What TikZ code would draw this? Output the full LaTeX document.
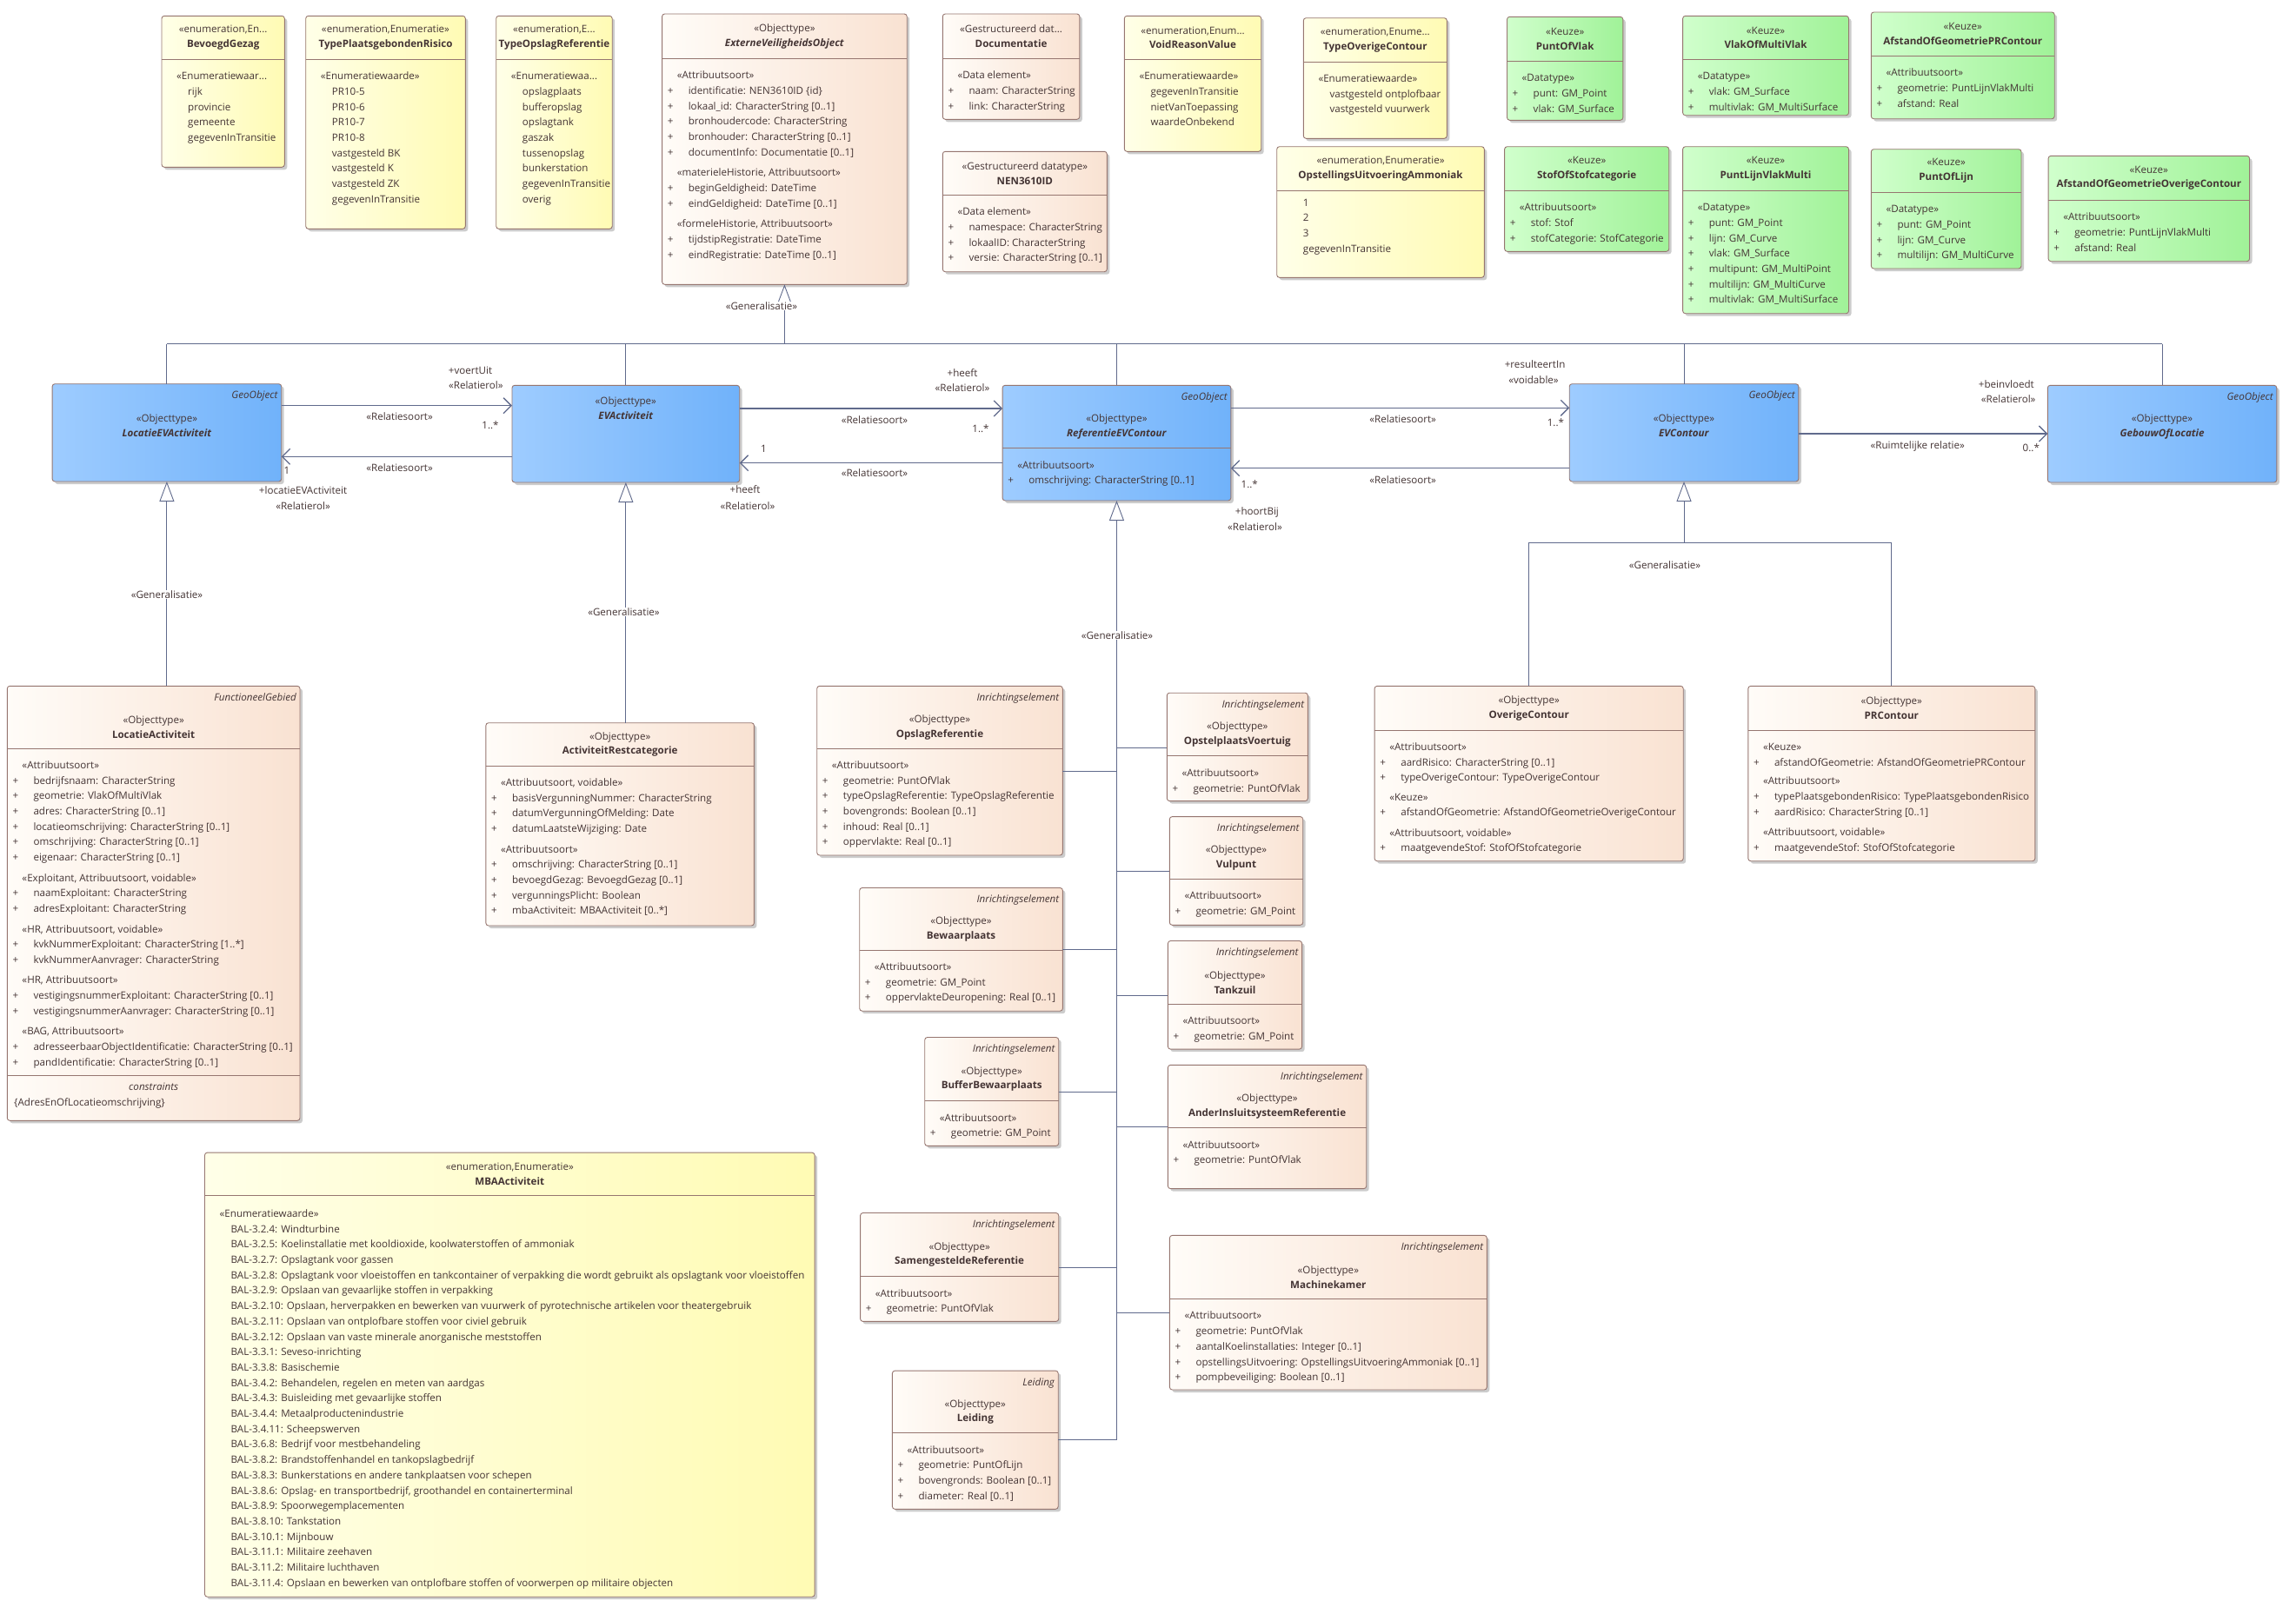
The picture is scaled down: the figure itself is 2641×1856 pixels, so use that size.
\documentclass[tikz,border=0pt]{standalone}
\usepackage{fontspec}
\setmainfont{Open Sans}
\usetikzlibrary{fit,shadows,arrows.meta}

\definecolor{rand}{RGB}{150,118,112}
\definecolor{tekst}{RGB}{68,52,52}
\definecolor{lijn}{RGB}{96,106,140}
\definecolor{perzik1}{RGB}{255,252,248}
\definecolor{perzik2}{RGB}{249,226,210}
\definecolor{geel1}{RGB}{255,255,232}
\definecolor{geel2}{RGB}{255,251,180}
\definecolor{groen1}{RGB}{208,255,204}
\definecolor{groen2}{RGB}{160,242,152}
\definecolor{blauw1}{RGB}{158,204,255}
\definecolor{blauw2}{RGB}{112,178,250}

\newcommand{\umlfont}{\fontsize{11.6}{17.7}\selectfont}

\tikzset{
	klasse/.style={draw=rand, line width=0.9pt, rounded corners=3pt, inner sep=0pt, outer sep=0pt,
		drop shadow={shadow xshift=3pt, shadow yshift=-3pt, fill=black, opacity=0.2}},
	objtype/.style={klasse, left color=perzik1, right color=perzik2},
	enum/.style={klasse, left color=geel1, right color=geel2},
	keuze/.style={klasse, left color=groen1, right color=groen2},
	geo/.style={klasse, left color=blauw1, right color=blauw2},
	kop/.style={align=center, inner sep=0pt, text=tekst},
	lijst/.style={align=left, anchor=north west, inner sep=0pt, text=tekst},
	etiket/.style={anchor=base east, inner sep=0pt, text=tekst, font=\umlfont\itshape},
	assoc/.style={draw=lijn, line width=1.3pt, -{Straight Barb[length=9pt,width=18pt]}},
	gen/.style={draw=lijn, line width=0.9pt, -{Triangle[length=23pt,width=17pt,fill=white]}},
	genlijn/.style={draw=lijn, line width=0.9pt},
	rol/.style={inner sep=0pt, text=tekst},
	genlabel/.style={inner sep=1pt, fill=white, text=tekst}
}

\newcommand{\klasse}[8]{%
	\node[#2, fit={(#3,#4) (#5,#6)}] (#1) {};
	\coordinate (#1-div) at (#3,#7);
	\coordinate (#1-divr) at (#5,#7);
	\if\relax\detokenize{#8}\relax
	\coordinate (#1-kop) at ({(#3+#5)/2},{(#4+#7)/2});
	\else
	\node[etiket] at ({#5-4},{#4+17}) {#8};
	\coordinate (#1-kop) at ({(#3+#5)/2},{(#4+#7)/2+11.5});
	\fi}
\newcommand{\kop}[3]{\node[kop] at (#1-kop) {#2\\[-1pt]\textbf{#3}};}
\newcommand{\lijst}[3][19]{%
	\draw[rand, line width=0.9pt] (#2-div) -- (#2-divr);
	\node[lijst] at ([shift={(4,#1+4.2-12.39)}]#2-div) {\strut#3};}
\newcommand{\stereo}[1]{\hspace*{13pt}#1}
\newcommand{\kenmerk}[1]{\makebox[26pt][l]{\hspace*{2pt}+}#1}
\newcommand{\waarde}[1]{\hspace*{26pt}#1}

\begin{document}
\begin{tikzpicture}[x=1pt, y=-1pt, font=\umlfont]
	\fill[white] (0,0) rectangle (2641,1856);
	\useasboundingbox (0,0) rectangle (2641,1856);
	
	\klasse{bevoegdgezag}{enum}{186}{18.3}{327.3}{192.3}{68.3}{}
	\kop{bevoegdgezag}{«enumeration,En...}{BevoegdGezag}
	\lijst{bevoegdgezag}{\stereo{«Enumeratiewaar...}\\ \waarde{rijk}\\ \waarde{provincie}\\ \waarde{gemeente}\\ \waarde{gegevenInTransitie}}
	
	\klasse{typepr}{enum}{351.7}{18.3}{535.3}{263.3}{68.3}{}
	\kop{typepr}{«enumeration,Enumeratie»}{TypePlaatsgebondenRisico}
	\lijst{typepr}{\stereo{«Enumeratiewaarde»}\\ \waarde{PR10-5}\\ \waarde{PR10-6}\\ \waarde{PR10-7}\\ \waarde{PR10-8}\\ \waarde{vastgesteld BK}\\ \waarde{vastgesteld K}\\ \waarde{vastgesteld ZK}\\ \waarde{gegevenInTransitie}}
	
	\klasse{typeopslag}{enum}{570.7}{18.3}{704.2}{263.3}{68.3}{}
	\kop{typeopslag}{«enumeration,E...}{TypeOpslagReferentie}
	\lijst{typeopslag}{\stereo{«Enumeratiewaa...}\\ \waarde{opslagplaats}\\ \waarde{bufferopslag}\\ \waarde{opslagtank}\\ \waarde{gaszak}\\ \waarde{tussenopslag}\\ \waarde{bunkerstation}\\ \waarde{gegevenInTransitie}\\ \waarde{overig}}
	
	\klasse{evo}{objtype}{761.6}{16}{1043.2}{327.3}{67.3}{}
	\kop{evo}{«Objecttype»}{\textit{ExterneVeiligheidsObject}}
	\lijst{evo}{\stereo{«Attribuutsoort»}\\
		\kenmerk{identificatie: NEN3610ID \{id\}}\\
		\kenmerk{lokaal\_id: CharacterString [0..1]}\\
		\kenmerk{bronhoudercode: CharacterString}\\
		\kenmerk{bronhouder: CharacterString [0..1]}\\
		\kenmerk{documentInfo: Documentatie [0..1]}\\[5.8pt]
		\stereo{«materieleHistorie, Attribuutsoort»}\\
		\kenmerk{beginGeldigheid: DateTime}\\
		\kenmerk{eindGeldigheid: DateTime [0..1]}\\[5.8pt]
		\stereo{«formeleHistorie, Attribuutsoort»}\\
		\kenmerk{tijdstipRegistratie: DateTime}\\
		\kenmerk{eindRegistratie: DateTime [0..1]}}
	
	\klasse{documentatie}{objtype}{1084.3}{16}{1241.8}{137.3}{67.3}{}
	\kop{documentatie}{«Gestructureerd dat...}{Documentatie}
	\lijst{documentatie}{\stereo{«Data element»}\\ \kenmerk{naam: CharacterString}\\ \kenmerk{link: CharacterString}}
	
	\klasse{nen}{objtype}{1084.3}{174.3}{1273.3}{312.7}{224.3}{}
	\kop{nen}{«Gestructureerd datatype»}{NEN3610ID}
	\lijst{nen}{\stereo{«Data element»}\\ \kenmerk{namespace: CharacterString}\\ \kenmerk{lokaalID: CharacterString}\\ \kenmerk{versie: CharacterString [0..1]}}
	
	\klasse{voidreason}{enum}{1293.3}{18.3}{1450.7}{174.3}{68.3}{}
	\kop{voidreason}{«enumeration,Enum...}{VoidReasonValue}
	\lijst{voidreason}{\stereo{«Enumeratiewaarde»}\\ \waarde{gegevenInTransitie}\\ \waarde{nietVanToepassing}\\ \waarde{waardeOnbekend}}
	
	\klasse{typeoverig}{enum}{1499.3}{20.7}{1664.3}{159.3}{71}{}
	\kop{typeoverig}{«enumeration,Enume...}{TypeOverigeContour}
	\lijst{typeoverig}{\stereo{«Enumeratiewaarde»}\\ \waarde{vastgesteld ontplofbaar}\\ \waarde{vastgesteld vuurwerk}}
	
	\klasse{opstuitv}{enum}{1468.7}{168.7}{1707.3}{319.3}{219.3}{}
	\kop{opstuitv}{«enumeration,Enumeratie»}{OpstellingsUitvoeringAmmoniak}
	\lijst[13.4]{opstuitv}{\waarde{1}\\ \waarde{2}\\ \waarde{3}\\ \waarde{gegevenInTransitie}}
	
	\klasse{puntofvlak}{keuze}{1733.5}{19.3}{1866.8}{138.3}{70.3}{}
	\kop{puntofvlak}{«Keuze»}{PuntOfVlak}
	\lijst{puntofvlak}{\stereo{«Datatype»}\\ \kenmerk{punt: GM\_Point}\\ \kenmerk{vlak: GM\_Surface}}
	
	\klasse{vlakofmulti}{keuze}{1935.6}{18.3}{2126.5}{132.7}{68.3}{}
	\kop{vlakofmulti}{«Keuze»}{VlakOfMultiVlak}
	\lijst{vlakofmulti}{\stereo{«Datatype»}\\ \kenmerk{vlak: GM\_Surface}\\ \kenmerk{multivlak: GM\_MultiSurface}}
	
	\klasse{afstandpr}{keuze}{2152.3}{14}{2363.2}{136.7}{64.3}{}
	\kop{afstandpr}{«Keuze»}{AfstandOfGeometriePRContour}
	\lijst{afstandpr}{\stereo{«Attribuutsoort»}\\ \kenmerk{geometrie: PuntLijnVlakMulti}\\ \kenmerk{afstand: Real}}
	
	\klasse{stofofcat}{keuze}{1730.6}{168.7}{1919.7}{289.3}{219.3}{}
	\kop{stofofcat}{«Keuze»}{StofOfStofcategorie}
	\lijst{stofofcat}{\stereo{«Attribuutsoort»}\\ \kenmerk{stof: Stof}\\ \kenmerk{stofCategorie: StofCategorie}}
	
	\klasse{puntlijnvlak}{keuze}{1935.6}{168.7}{2126.5}{360.7}{219.3}{}
	\kop{puntlijnvlak}{«Keuze»}{PuntLijnVlakMulti}
	\lijst{puntlijnvlak}{\stereo{«Datatype»}\\ \kenmerk{punt: GM\_Point}\\ \kenmerk{lijn: GM\_Curve}\\ \kenmerk{vlak: GM\_Surface}\\ \kenmerk{multipunt: GM\_MultiPoint}\\ \kenmerk{multilijn: GM\_MultiCurve}\\ \kenmerk{multivlak: GM\_MultiSurface}}
	
	\klasse{puntoflijn}{keuze}{2152.3}{171.7}{2325}{309}{221.3}{}
	\kop{puntoflijn}{«Keuze»}{PuntOfLijn}
	\lijst{puntoflijn}{\stereo{«Datatype»}\\ \kenmerk{punt: GM\_Point}\\ \kenmerk{lijn: GM\_Curve}\\ \kenmerk{multilijn: GM\_MultiCurve}}
	
	\klasse{afstandoverig}{keuze}{2356.1}{179.3}{2587.5}{300.7}{230.3}{}
	\kop{afstandoverig}{«Keuze»}{AfstandOfGeometrieOverigeContour}
	\lijst{afstandoverig}{\stereo{«Attribuutsoort»}\\ \kenmerk{geometrie: PuntLijnVlakMulti}\\ \kenmerk{afstand: Real}}
	
	\klasse{locevact}{geo}{60.1}{441.7}{323.7}{554}{514.3}{GeoObject}
	\kop{locevact}{«Objecttype»}{\textit{LocatieEVActiviteit}}
	
	\klasse{evact}{geo}{589}{443.3}{850.7}{555}{495.7}{}
	\kop{evact}{«Objecttype»}{\textit{EVActiviteit}}
	
	\klasse{refevc}{geo}{1153.1}{443.3}{1415.8}{576}{515.7}{GeoObject}
	\kop{refevc}{«Objecttype»}{\textit{ReferentieEVContour}}
	\lijst{refevc}{\stereo{«Attribuutsoort»}\\ \kenmerk{omschrijving: CharacterString [0..1]}}
	
	\klasse{evc}{geo}{1805.2}{441.7}{2068.8}{554}{514.3}{GeoObject}
	\kop{evc}{«Objecttype»}{\textit{EVContour}}
	
	\klasse{gebouw}{geo}{2355.3}{443.3}{2618.8}{555}{516}{GeoObject}
	\kop{gebouw}{«Objecttype»}{\textit{GebouwOfLocatie}}
	
	\klasse{locact}{objtype}{8.3}{789.3}{345}{1289.3}{861}{FunctioneelGebied}
	\kop{locact}{«Objecttype»}{LocatieActiviteit}
	\lijst{locact}{\stereo{«Attribuutsoort»}\\
		\kenmerk{bedrijfsnaam: CharacterString}\\
		\kenmerk{geometrie: VlakOfMultiVlak}\\
		\kenmerk{adres: CharacterString [0..1]}\\
		\kenmerk{locatieomschrijving: CharacterString [0..1]}\\
		\kenmerk{omschrijving: CharacterString [0..1]}\\
		\kenmerk{eigenaar: CharacterString [0..1]}\\[5.8pt]
		\stereo{«Exploitant, Attribuutsoort, voidable»}\\
		\kenmerk{naamExploitant: CharacterString}\\
		\kenmerk{adresExploitant: CharacterString}\\[5.8pt]
		\stereo{«HR, Attribuutsoort, voidable»}\\
		\kenmerk{kvkNummerExploitant: CharacterString [1..*]}\\
		\kenmerk{kvkNummerAanvrager: CharacterString}\\[5.8pt]
		\stereo{«HR, Attribuutsoort»}\\
		\kenmerk{vestigingsnummerExploitant: CharacterString [0..1]}\\
		\kenmerk{vestigingsnummerAanvrager: CharacterString [0..1]}\\[5.8pt]
		\stereo{«BAG, Attribuutsoort»}\\
		\kenmerk{adresseerbaarObjectIdentificatie: CharacterString [0..1]}\\
		\kenmerk{pandIdentificatie: CharacterString [0..1]}}
	\draw[rand, line width=0.9pt] (locact.west |- 0,1237.3) -- (locact.east |- 0,1237.3);
	\node[kop, font=\umlfont\itshape] (constraints) at (locact.center |- 0,1250.7) {constraints};
	\node[lijst, anchor=base west] (adresconstraint) at (16,1272.5) {\{AdresEnOfLocatieomschrijving\}};
	
	\klasse{actrest}{objtype}{558.9}{831.7}{867.4}{1065}{881}{}
	\kop{actrest}{«Objecttype»}{ActiviteitRestcategorie}
	\lijst{actrest}{\stereo{«Attribuutsoort, voidable»}\\
		\kenmerk{basisVergunningNummer: CharacterString}\\
		\kenmerk{datumVergunningOfMelding: Date}\\
		\kenmerk{datumLaatsteWijziging: Date}\\[5.8pt]
		\stereo{«Attribuutsoort»}\\
		\kenmerk{omschrijving: CharacterString [0..1]}\\
		\kenmerk{bevoegdGezag: BevoegdGezag [0..1]}\\
		\kenmerk{vergunningsPlicht: Boolean}\\
		\kenmerk{mbaActiviteit: MBAActiviteit [0..*]}}
	
	\klasse{opslag}{objtype}{939.7}{789.3}{1222.3}{984}{861}{Inrichtingselement}
	\kop{opslag}{«Objecttype»}{OpslagReferentie}
	\lijst{opslag}{\stereo{«Attribuutsoort»}\\
		\kenmerk{geometrie: PuntOfVlak}\\
		\kenmerk{typeOpslagReferentie: TypeOpslagReferentie}\\
		\kenmerk{bovengronds: Boolean [0..1]}\\
		\kenmerk{inhoud: Real [0..1]}\\
		\kenmerk{oppervlakte: Real [0..1]}}
	
	\klasse{opstel}{objtype}{1342.3}{797.2}{1504.3}{921.6}{869.9}{Inrichtingselement}
	\kop{opstel}{«Objecttype»}{OpstelplaatsVoertuig}
	\lijst{opstel}{\stereo{«Attribuutsoort»}\\ \kenmerk{geometrie: PuntOfVlak}}
	
	\klasse{vulpunt}{objtype}{1345.3}{939.6}{1498.7}{1064.3}{1011.5}{Inrichtingselement}
	\kop{vulpunt}{«Objecttype»}{Vulpunt}
	\lijst{vulpunt}{\stereo{«Attribuutsoort»}\\ \kenmerk{geometrie: GM\_Point}}
	
	\klasse{bewaar}{objtype}{988.7}{1021.5}{1222.4}{1163.2}{1093}{Inrichtingselement}
	\kop{bewaar}{«Objecttype»}{Bewaarplaats}
	\lijst{bewaar}{\stereo{«Attribuutsoort»}\\ \kenmerk{geometrie: GM\_Point}\\ \kenmerk{oppervlakteDeuropening: Real [0..1]}}
	
	\klasse{tankzuil}{objtype}{1343.4}{1082.5}{1497.6}{1207.1}{1155.4}{Inrichtingselement}
	\kop{tankzuil}{«Objecttype»}{Tankzuil}
	\lijst{tankzuil}{\stereo{«Attribuutsoort»}\\ \kenmerk{geometrie: GM\_Point}}
	
	\klasse{buffer}{objtype}{1063.7}{1193.5}{1217.7}{1318.4}{1266.7}{Inrichtingselement}
	\kop{buffer}{«Objecttype»}{BufferBewaarplaats}
	\lijst{buffer}{\stereo{«Attribuutsoort»}\\ \kenmerk{geometrie: GM\_Point}}
	
	\klasse{ander}{objtype}{1343.4}{1225.3}{1571.7}{1367.6}{1297.7}{Inrichtingselement}
	\kop{ander}{«Objecttype»}{AnderInsluitsysteemReferentie}
	\lijst{ander}{\stereo{«Attribuutsoort»}\\ \kenmerk{geometrie: PuntOfVlak}}
	
	\klasse{samengesteld}{objtype}{989.6}{1395.5}{1217.7}{1520.4}{1468.7}{Inrichtingselement}
	\kop{samengesteld}{«Objecttype»}{SamengesteldeReferentie}
	\lijst{samengesteld}{\stereo{«Attribuutsoort»}\\ \kenmerk{geometrie: PuntOfVlak}}
	
	\klasse{machinekamer}{objtype}{1345.4}{1421.4}{1710.3}{1599}{1494.5}{Inrichtingselement}
	\kop{machinekamer}{«Objecttype»}{Machinekamer}
	\lijst{machinekamer}{\stereo{«Attribuutsoort»}\\
		\kenmerk{geometrie: PuntOfVlak}\\
		\kenmerk{aantalKoelinstallaties: Integer [0..1]}\\
		\kenmerk{opstellingsUitvoering: OpstellingsUitvoeringAmmoniak [0..1]}\\
		\kenmerk{pompbeveiliging: Boolean [0..1]}}
	
	\klasse{leiding}{objtype}{1026.4}{1577.1}{1217.2}{1736.3}{1648.8}{Leiding}
	\kop{leiding}{«Objecttype»}{Leiding}
	\lijst{leiding}{\stereo{«Attribuutsoort»}\\
		\kenmerk{geometrie: PuntOfLijn}\\
		\kenmerk{bovengronds: Boolean [0..1]}\\
		\kenmerk{diameter: Real [0..1]}}
	
	\klasse{overige}{objtype}{1581.1}{789.3}{1936.2}{990.7}{840}{}
	\kop{overige}{«Objecttype»}{OverigeContour}
	\lijst{overige}{\stereo{«Attribuutsoort»}\\
		\kenmerk{aardRisico: CharacterString [0..1]}\\
		\kenmerk{typeOverigeContour: TypeOverigeContour}\\[4.5pt]
		\stereo{«Keuze»}\\
		\kenmerk{afstandOfGeometrie: AfstandOfGeometrieOverigeContour}\\[5.8pt]
		\stereo{«Attribuutsoort, voidable»}\\
		\kenmerk{maatgevendeStof: StofOfStofcategorie}}
	
	\klasse{prc}{objtype}{2010.8}{789.3}{2340.8}{990.7}{840}{}
	\kop{prc}{«Objecttype»}{PRContour}
	\lijst{prc}{\stereo{«Keuze»}\\
		\kenmerk{afstandOfGeometrie: AfstandOfGeometriePRContour}\\[4pt]
		\stereo{«Attribuutsoort»}\\
		\kenmerk{typePlaatsgebondenRisico: TypePlaatsgebondenRisico}\\
		\kenmerk{aardRisico: CharacterString [0..1]}\\[5.8pt]
		\stereo{«Attribuutsoort, voidable»}\\
		\kenmerk{maatgevendeStof: StofOfStofcategorie}}
	
	\klasse{mba}{enum}{235.5}{1326.1}{937.1}{1837.2}{1375.8}{}
	\kop{mba}{«enumeration,Enumeratie»}{MBAActiviteit}
	\lijst[20.2]{mba}{\stereo{«Enumeratiewaarde»}\\
		\waarde{BAL-3.2.4: Windturbine}\\
		\waarde{BAL-3.2.5: Koelinstallatie met kooldioxide, koolwaterstoffen of ammoniak}\\
		\waarde{BAL-3.2.7: Opslagtank voor gassen}\\
		\waarde{BAL-3.2.8: Opslagtank voor vloeistoffen en tankcontainer of verpakking die wordt gebruikt als opslagtank voor vloeistoffen}\\
		\waarde{BAL-3.2.9: Opslaan van gevaarlijke stoffen in verpakking}\\
		\waarde{BAL-3.2.10: Opslaan, herverpakken en bewerken van vuurwerk of pyrotechnische artikelen voor theatergebruik}\\
		\waarde{BAL-3.2.11: Opslaan van ontplofbare stoffen voor civiel gebruik}\\
		\waarde{BAL-3.2.12: Opslaan van vaste minerale anorganische meststoffen}\\
		\waarde{BAL-3.3.1: Seveso-inrichting}\\
		\waarde{BAL-3.3.8: Basischemie}\\
		\waarde{BAL-3.4.2: Behandelen, regelen en meten van aardgas}\\
		\waarde{BAL-3.4.3: Buisleiding met gevaarlijke stoffen}\\
		\waarde{BAL-3.4.4: Metaalproductenindustrie}\\
		\waarde{BAL-3.4.11: Scheepswerven}\\
		\waarde{BAL-3.6.8: Bedrijf voor mestbehandeling}\\
		\waarde{BAL-3.8.2: Brandstoffenhandel en tankopslagbedrijf}\\
		\waarde{BAL-3.8.3: Bunkerstations en andere tankplaatsen voor schepen}\\
		\waarde{BAL-3.8.6: Opslag- en transportbedrijf, groothandel en containerterminal}\\
		\waarde{BAL-3.8.9: Spoorwegemplacementen}\\
		\waarde{BAL-3.8.10: Tankstation}\\
		\waarde{BAL-3.10.1: Mijnbouw}\\
		\waarde{BAL-3.11.1: Militaire zeehaven}\\
		\waarde{BAL-3.11.2: Militaire luchthaven}\\
		\waarde{BAL-3.11.4: Opslaan en bewerken van ontplofbare stoffen of voorwerpen op militaire objecten}}
	
	\coordinate (bus) at (evo.south |- 0,395.7);
	\draw[gen] (bus) -- (evo.south);
	\draw[genlijn] (locevact.north |- bus) -- (gebouw.north |- bus);
	\draw[genlijn] (locevact.north |- bus) -- (locevact.north);
	\draw[genlijn] (evact.north |- bus) -- (evact.north);
	\draw[genlijn] (refevc.north |- bus) -- (refevc.north);
	\draw[genlijn] (evc.north |- bus) -- (evc.north);
	\draw[genlijn] (gebouw.north |- bus) -- (gebouw.north);
	\node[genlabel] (gen1) at (876,352) {«Generalisatie»};
	
	\draw[gen] (locevact.south |- locact.north) -- (locevact.south);
	\node[genlabel] (gen2) at (192,684) {«Generalisatie»};
	\draw[gen] (evact.south |- actrest.north) -- (evact.south);
	\node[genlabel] (gen3) at (717.5,704) {«Generalisatie»};
	
	\coordinate (stamvoet) at (refevc.south |- 0,1656.7);
	\draw[gen] (stamvoet) -- (refevc.south);
	\draw[genlijn] (opslag.east |- 0,887.3) -- (stamvoet |- 0,887.3);
	\draw[genlijn] (opstel.west |- 0,860.4) -- (stamvoet |- 0,860.4);
	\draw[genlijn] (vulpunt.west |- 0,1002) -- (stamvoet |- 0,1002);
	\draw[genlijn] (bewaar.east |- 0,1092) -- (stamvoet |- 0,1092);
	\draw[genlijn] (tankzuil.west |- 0,1145.4) -- (stamvoet |- 0,1145.4);
	\draw[genlijn] (buffer.east |- 0,1256.6) -- (stamvoet |- 0,1256.6);
	\draw[genlijn] (ander.west |- 0,1296.6) -- (stamvoet |- 0,1296.6);
	\draw[genlijn] (samengesteld.east |- 0,1458.2) -- (stamvoet |- 0,1458.2);
	\draw[genlijn] (machinekamer.west |- 0,1510) -- (stamvoet |- 0,1510);
	\draw[genlijn] (leiding.east |- stamvoet) -- (stamvoet);
	\node[genlabel] (gen4) at (1285,731) {«Generalisatie»};
	
	\coordinate (evcknik) at (evc.south |- 0,624);
	\draw[gen] (evcknik) -- (evc.south);
	\draw[genlijn] (overige.north) -- (overige.north |- evcknik) -- (prc.north |- evcknik) -- (prc.north);
	\node[rol] (gen5) at (1915,650) {«Generalisatie»};
	
	\draw[assoc] (locevact.east |- 0,466.7) -- (evact.west |- 0,466.7);
	\draw[assoc] (evact.west |- 0,525.3) -- (locevact.east |- 0,525.3);
	\draw[assoc] (evact.east |- 0,470) -- (refevc.west |- 0,470);
	\draw[assoc] (refevc.west |- 0,532.7) -- (evact.east |- 0,532.7);
	\draw[assoc] (refevc.east |- 0,469.3) -- (evc.west |- 0,469.3);
	\draw[assoc] (evc.west |- 0,538.7) -- (refevc.east |- 0,538.7);
	\draw[assoc] (evc.east |- 0,499) -- (gebouw.west |- 0,499);
	
	\node[rol] (rs1) at (459.6,479.3) {«Relatiesoort»};
	\node[rol] (rs2) at (459.6,537.7) {«Relatiesoort»};
	\node[rol] (rs3) at (1006,483.3) {«Relatiesoort»};
	\node[rol] (rs4) at (1006,544.3) {«Relatiesoort»};
	\node[rol] (rs5) at (1613.7,481.7) {«Relatiesoort»};
	\node[rol] (rs6) at (1613.7,552) {«Relatiesoort»};
	\node[rol] (rs7) at (2205.7,513.3) {«Ruimtelijke relatie»};
	\node[rol] (voertuit) at (541,426) {+voertUit};
	\node[rol] (voertuitst) at (547.4,443.3) {«Relatierol»};
	\node[rol] (mult1) at (564,489.3) {1..*};
	\node[rol] (mult2) at (330,541.7) {1};
	\node[rol] (locrol) at (348.6,564) {+locatieEVActiviteit};
	\node[rol] (locrolst) at (348.6,581.7) {«Relatierol»};
	\node[rol] (heeft1) at (1107,429.3) {+heeft};
	\node[rol] (heeft1st) at (1107,446) {«Relatierol»};
	\node[rol] (mult3) at (1128,492.7) {1..*};
	\node[rol] (mult4) at (878.5,516.7) {1};
	\node[rol] (heeft2) at (857,563.3) {+heeft};
	\node[rol] (heeft2st) at (860,581.7) {«Relatierol»};
	\node[rol] (resulteert) at (1765.6,419.3) {+resulteertIn};
	\node[rol] (resulteertst) at (1764,437.3) {«voidable»};
	\node[rol] (mult5) at (1789.4,486) {1..*};
	\node[rol] (mult6) at (1437.2,556.7) {1..*};
	\node[rol] (hoortbij) at (1445.9,589.3) {+hoortBij};
	\node[rol] (hoortbijst) at (1443.5,606) {«Relatierol»};
	\node[rol] (mult7) at (2336.3,515) {0..*};
	\node[rol] (beinvloedt) at (2307.8,441.7) {+beinvloedt};
	\node[rol] (beinvloedtst) at (2310.2,459.3) {«Relatierol»};
\end{tikzpicture}
\end{document}
